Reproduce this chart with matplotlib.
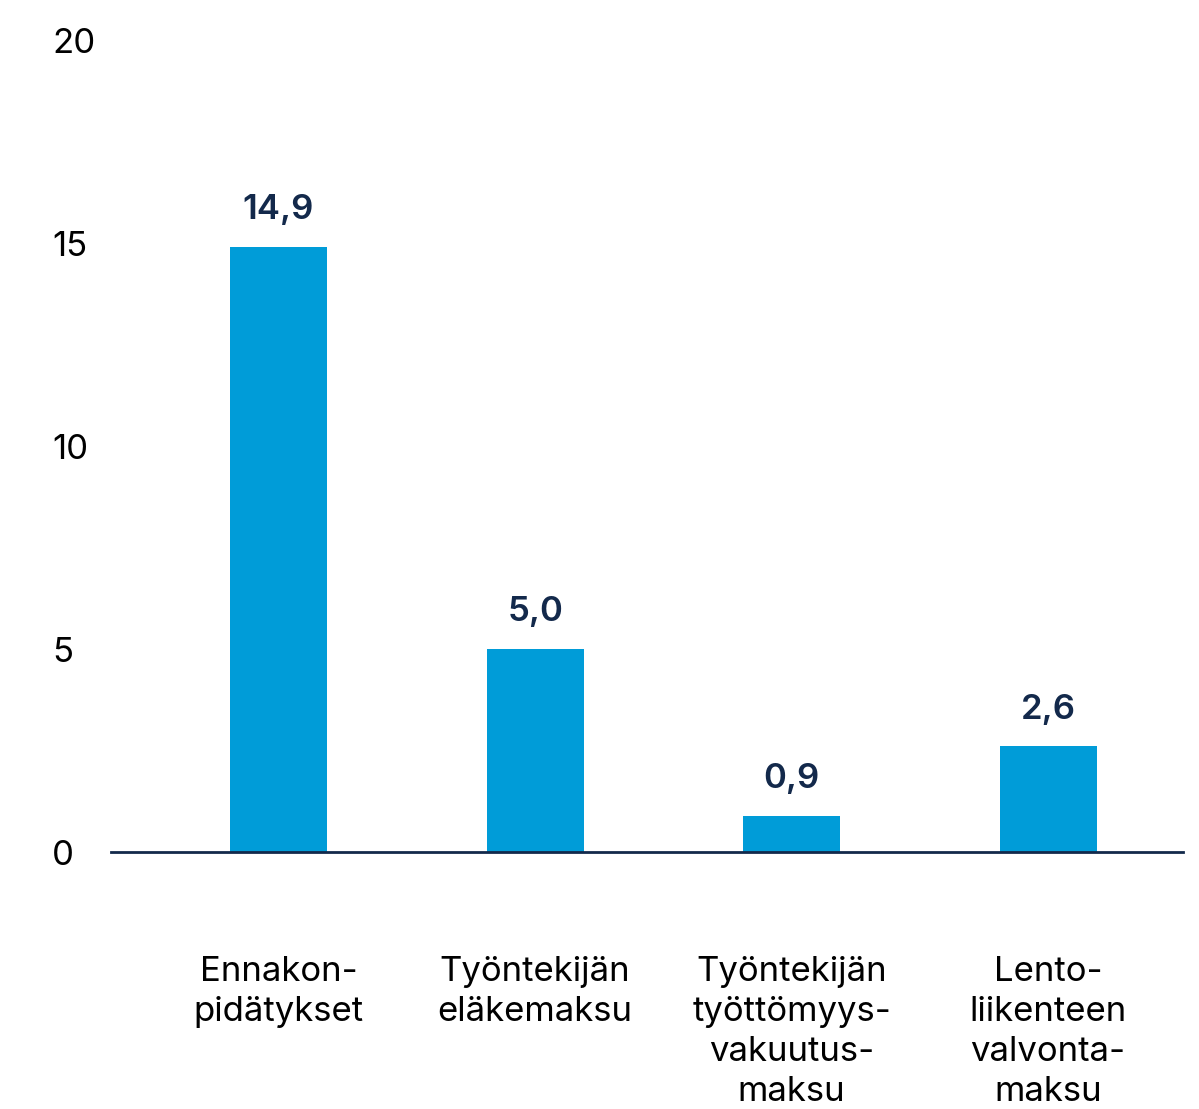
import numpy as np
import matplotlib.pyplot as plt

categories = ["Ennakon-\npidätykset", "Työntekijän\neläkemaksu",
              "Työntekijän\ntyöttömyys-\nvakuutus-\nmaksu", "Lento-\nliikenteen\nvalvonta-\nmaksu"]
values = [14.9, 5.0, 0.9, 2.6]
yticks = [0, 5, 10, 15, 20]

BAR = "#009cd8"
NAVY = "#13294b"

plt.rcParams['font.family'] = ['Inter', 'DejaVu Sans']

fig = plt.figure(figsize=(11.99, 11.09), dpi=100)
ax = fig.add_axes([0.0926, 0.2317, 0.8941, 0.7322])

x = np.arange(len(values))
ax.bar(x, values, width=0.378, color=BAR, zorder=2)

for xi, v in zip(x, values):
    ax.annotate(f"{v:.1f}".replace(".", ","), (xi, v), xytext=(0, 15),
                textcoords="offset points", ha="center", va="bottom",
                fontsize=25, color=NAVY, fontweight="semibold")

ax.set_xlim(-0.653, 3.526)
ax.set_ylim(0, 20)
ax.set_yticks(yticks)
ax.set_yticklabels([str(t) for t in yticks], fontsize=25, color="black", ha="left")
ax.set_xticks(x)
ax.set_xticklabels(categories, fontsize=25, color="black", linespacing=1.32)
ax.tick_params(axis="y", length=0, pad=42.5)
ax.tick_params(axis="x", length=0, pad=75)
for s in ["top", "right", "left"]:
    ax.spines[s].set_visible(False)
ax.spines["bottom"].set_color(NAVY)
ax.spines["bottom"].set_linewidth(2)

fig.savefig("out.png", dpi=100)
